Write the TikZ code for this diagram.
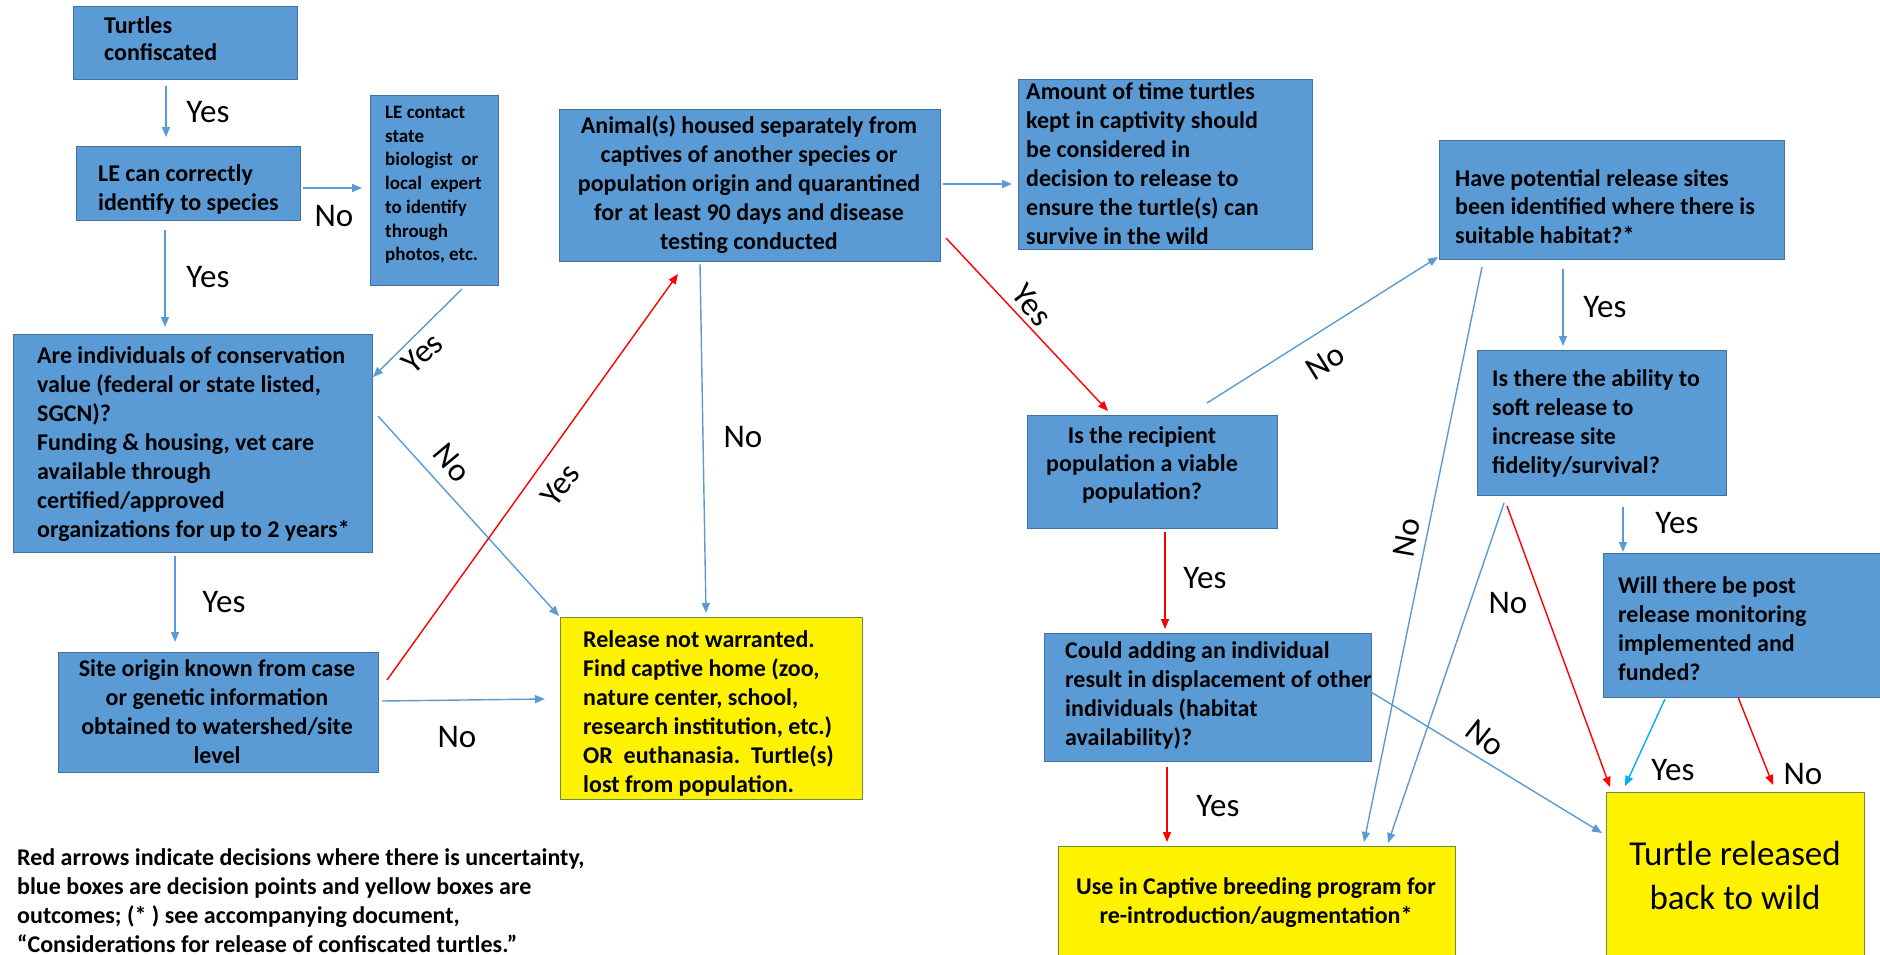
\documentclass[tikz,border=0pt]{standalone}
\usepackage{fontspec}
\setmainfont{Carlito}
\usetikzlibrary{arrows.meta,calc}
\definecolor{boxblue}{HTML}{5B9BD5}
\definecolor{boxedge}{HTML}{41719C}
\definecolor{arrblue}{HTML}{5B9BD5}
\definecolor{arrcyan}{HTML}{00B0F0}
\definecolor{arrred}{HTML}{FF0000}
\definecolor{yedge}{HTML}{6E8B3D}
\begin{document}
\begin{tikzpicture}[x=1pt,y=-1pt,
  bbox/.style={draw=boxedge,line width=1pt,fill=boxblue,inner sep=0pt,outer sep=0pt,anchor=north west},
  ybox/.style={draw=yedge,line width=1pt,fill=yellow,inner sep=0pt,outer sep=0pt,anchor=north west},
  txt/.style={font=\fontsize{24}{29}\selectfont\bfseries,align=left,inner sep=0pt,anchor=west},
  ctxt/.style={font=\fontsize{24}{29}\selectfont\bfseries,align=center,inner sep=0pt,anchor=center},
  lbl/.style={font=\fontsize{33}{40}\selectfont,inner sep=0pt},
  conn/.style={line width=1.4pt,-{Triangle[length=10pt,width=8pt]}},
  bl/.style={conn,draw=arrblue},
  rd/.style={conn,draw=arrred},
  cy/.style={conn,draw=arrcyan}]
\useasboundingbox (0,0) rectangle (1880,954);
\fill[white] (0,0) rectangle (1880,954);

% boxes
\node[bbox,minimum width=224pt,minimum height=73pt] (turtles) at (73,6) {};
\node[bbox,minimum width=224pt,minimum height=74pt] (le) at (76,146) {};
\node[bbox,minimum width=128pt,minimum height=190pt] (contact) at (370,95) {};
\node[bbox,minimum width=359pt,minimum height=218pt] (are) at (13,334) {};
\node[bbox,minimum width=320pt,minimum height=120pt] (site) at (58,652) {};
\node[ybox,minimum width=302pt,minimum height=182pt] (release) at (560,617) {};
\node[bbox,minimum width=381pt,minimum height=152pt] (animal) at (559,109) {};
\node[bbox,minimum width=294pt,minimum height=170pt] (amount) at (1018,79) {};
\node[bbox,minimum width=250pt,minimum height=113pt] (recip) at (1027,415) {};
\node[bbox,minimum width=327pt,minimum height=128pt] (could) at (1044,633) {};
\node[ybox,minimum width=397pt,minimum height=130pt] (captive) at (1058,846) {};
\node[bbox,minimum width=345pt,minimum height=119pt] (have) at (1439,140) {};
\node[bbox,minimum width=249pt,minimum height=145pt] (ability) at (1477,350) {};
\node[bbox,minimum width=300pt,minimum height=144pt] (post) at (1603,553) {};
\node[ybox,minimum width=258pt,minimum height=180pt] (released) at (1606,792) {};

% box texts
\node[txt,font=\fontsize{24}{27}\selectfont\bfseries] (turtlest) at (104,38.5) {Turtles\\confiscated};
\node[txt] (let) at (98,189.5) {LE can correctly\\identify to species};
\node[txt,font=\fontsize{19}{23.7}\selectfont\bfseries] (contactt) at (385,185) {LE contact\\state\\biologist\hspace{0.45em}or\\local\hspace{0.45em}expert\\to identify\\through\\photos, etc.};
\node[txt] (aret) at (37,444.5) {Are individuals of conservation\\value (federal or state listed,\\SGCN)?\\Funding \& housing, vet care\\available through\\certified/approved\\organizations for up to 2 years*};
\node[ctxt] (sitet) at (217,712) {Site origin known from case\\or genetic information\\obtained to watershed/site\\level};
\node[txt] (releaset) at (583,713) {Release not warranted.\\Find captive home (zoo,\\nature center, school,\\research institution, etc.)\\OR\hspace{0.45em}euthanasia.\hspace{0.45em}Turtle(s)\\lost from population.};
\node[ctxt] (animalt) at (749,184.5) {Animal(s) housed separately from\\captives of another species or\\population origin and quarantined\\for at least 90 days and disease\\testing conducted};
\node[txt] (amountt) at (1026,164) {Amount of time turtles\\kept in captivity should\\be considered in\\decision to release to\\ensure the turtle(s) can\\survive in the wild};
\node[ctxt,font=\fontsize{24}{28}\selectfont\bfseries] (recipt) at (1142,465) {Is the recipient\\population a viable\\population?};
\node[txt] (couldt) at (1065,695) {Could adding an individual\\result in displacement of other\\individuals (habitat\\availability)?};
\node[ctxt] (captivet) at (1256,902.5) {Use in Captive breeding program for\\re-introduction/augmentation*};
\node[txt,font=\fontsize{24}{28.5}\selectfont\bfseries] (havet) at (1455,206.5) {Have potential release sites\\been identified where there is\\suitable habitat?*};
\node[txt] (abilityt) at (1492,423.5) {Is there the ability to\\soft release to\\increase site\\fidelity/survival?};
\node[txt] (postt) at (1618,628.5) {Will there be post\\release monitoring\\implemented and\\funded?};
\node[align=center,inner sep=0pt,font=\fontsize{35}{44}\selectfont] (releasedt) at (1735,875) {Turtle released\\back to wild};

% legend
\node[txt] (legend) at (17,901) {Red arrows indicate decisions where there is uncertainty,\\blue boxes are decision points and yellow boxes are\\outcomes; (* ) see accompanying document,\\“Considerations for release of confiscated turtles.”};

% connectors
\draw[bl] ($(turtles.south west)+(93,7)$) -- ($(le.north west)+(90,-9)$);
\draw[bl] ($(le.north east)+(3,42)$) -- ($(contact.north west)+(-8,93)$);
\draw[bl] ($(le.south west)+(89,10)$) -- ($(are.north west)+(152,-7)$);
\draw[bl] ($(contact.south west)+(92,4)$) -- ($(are.north east)+(1,43)$);
\draw[bl] ($(are.north east)+(6,82)$) -- ($(release.north west)+(-1,-1)$);
\draw[bl] ($(are.south west)+(162,4)$) -- ($(site.north west)+(117,-10)$);
\draw[rd] ($(site.north east)+(9,28)$) -- ($(animal.south west)+(119,13)$);
\draw[bl] ($(site.north east)+(4,49)$) -- ($(release.north west)+(-15,82)$);
\draw[bl] ($(animal.south west)+(141,3)$) -- ($(release.north west)+(146,-4)$);
\draw[bl] ($(animal.north east)+(3,75)$) -- ($(amount.north west)+(-6,105)$);
\draw[rd] ($(animal.north east)+(6,129)$) -- ($(recip.north west)+(81,-4)$);
\draw[bl] ($(recip.north west)+(180,-12)$) -- ($(have.south west)+(-1,-2)$);
\draw[rd] ($(recip.south west)+(138,4)$) -- ($(could.north west)+(121,-4)$);
\draw[rd] ($(could.south west)+(123,6)$) -- ($(captive.north west)+(109,-4)$);
\draw[bl] ($(could.north east)+(0,59)$) -- ($(released.north west)+(-4,41)$);
\draw[bl] ($(have.south west)+(43,8)$) -- ($(captive.north west)+(306,-4)$);
\draw[bl] ($(have.south west)+(124,10)$) -- ($(ability.north west)+(86,-4)$);
\draw[bl] ($(ability.south west)+(27,8)$) -- ($(captive.north west)+(330,-3)$);
\draw[rd] ($(ability.south west)+(30,11)$) -- ($(released.north west)+(4,-5)$);
\draw[bl] ($(ability.south west)+(146,12)$) -- ($(post.north west)+(20,-1)$);
\draw[cy] ($(post.south west)+(62,2)$) -- ($(released.north west)+(19,-6)$);
\draw[rd] ($(post.south west)+(135,0)$) -- ($(released.north west)+(167,-7)$);

% labels
\node[lbl] (l1) at (208,112) {Yes};
\node[lbl] (l2) at (334,216) {No};
\node[lbl] (l3) at (208,277) {Yes};
\node[lbl,rotate=42] (l4) at (422,353) {Yes};
\node[lbl,rotate=-50] (l5) at (452,463) {No};
\node[lbl,rotate=52] (l6) at (560,485) {Yes};
\node[lbl] (l7) at (224,602) {Yes};
\node[lbl] (l8) at (457,737) {No};
\node[lbl] (l9) at (743,437) {No};
\node[lbl,rotate=-52] (l10) at (1032,305) {Yes};
\node[lbl,rotate=32] (l11) at (1325,362) {No};
\node[lbl] (l12) at (1205,578) {Yes};
\node[lbl] (l13) at (1218,806) {Yes};
\node[lbl,rotate=80] (l14) at (1407,538) {No};
\node[lbl] (l15) at (1605,307) {Yes};
\node[lbl] (l16) at (1508,603) {No};
\node[lbl] (l17) at (1677,523) {Yes};
\node[lbl,rotate=-38] (l18) at (1485,738) {No};
\node[lbl] (l19) at (1673,770) {Yes};
\node[lbl] (l20) at (1803,774) {No};
\end{tikzpicture}
\end{document}
